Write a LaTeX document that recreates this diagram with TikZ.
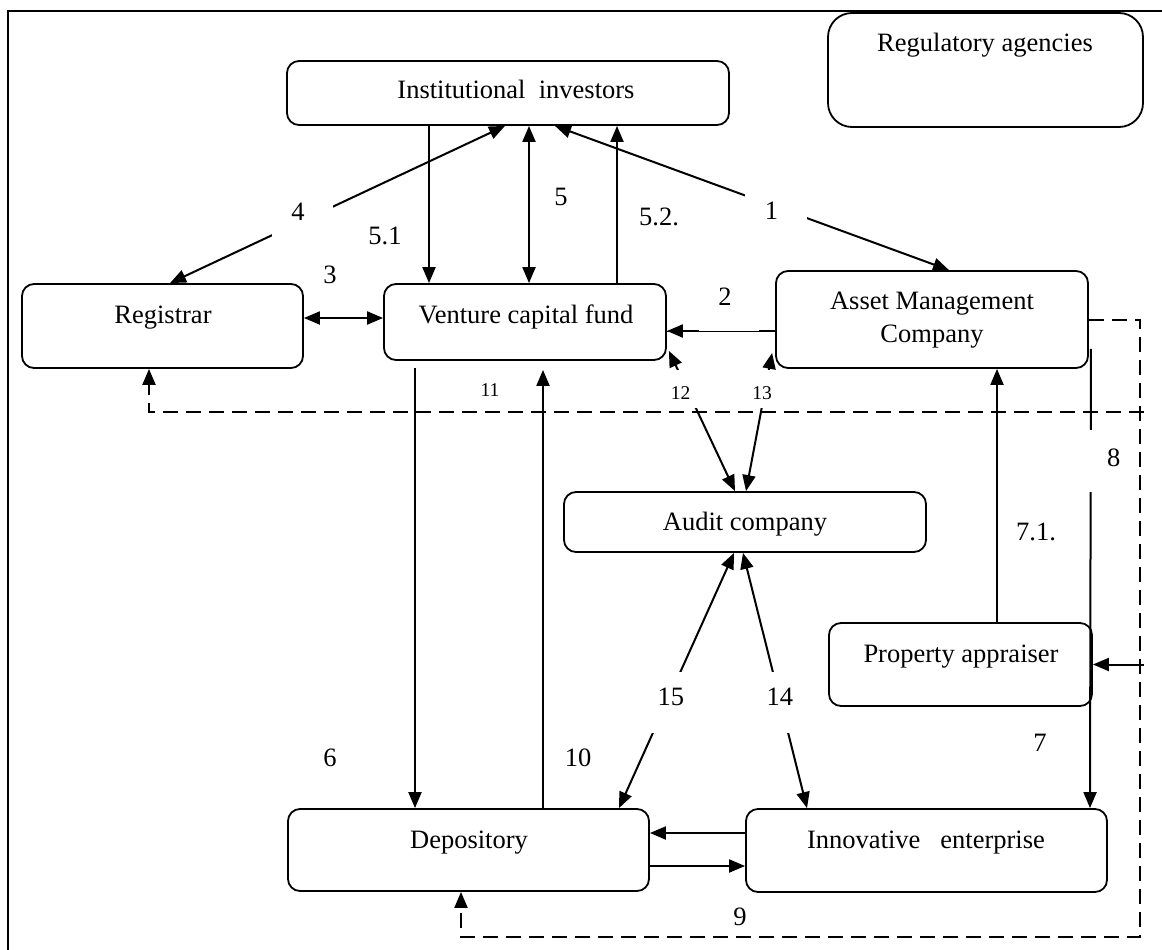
\documentclass[tikz,border=0pt]{standalone}
\usepackage{fontspec}
\setmainfont{Liberation Serif}
\usetikzlibrary{arrows.meta,calc}

\begin{document}
\begin{tikzpicture}[x=1pt,y=-1pt,
  Tri/.tip={Triangle[length=16pt,width=13pt]},
  box/.style={draw, line width=1.8pt, rounded corners=12pt, inner sep=0pt},
  txt/.style={font=\fontsize{26.5}{31}\selectfont, inner sep=0pt, anchor=base},
  num/.style={font=\fontsize{26.5}{31}\selectfont, inner sep=0pt},
  sm/.style={font=\fontsize{19.5}{23}\selectfont, inner sep=0pt},
  link/.style={line width=2pt},
  dline/.style={line width=2pt, dash pattern=on 15pt off 8pt},
  gapbox/.style 2 args={fill=white, draw=none, inner sep=0pt,
    minimum width=#1pt, minimum height=#2pt}
]
\useasboundingbox (0,0) rectangle (1162,950);

% outer frame
\draw[line width=2pt] (8,950) -- (8,11) -- (1162,11);

% participants
\node[box, minimum width=442pt, minimum height=64pt] (ii) at (508,93) {};
\node[txt] (ii-t) at (516,98) {Institutional\ \ investors};

\node[box, rounded corners=24pt, minimum width=315pt, minimum height=114pt] (ra) at (985.5,70) {};
\node[txt] (ra-t) at (985,52) {Regulatory agencies};

\node[box, minimum width=281pt, minimum height=84pt] (reg) at (162.5,326) {};
\node[txt] (reg-t) at (163,323) {Registrar};

\node[box, minimum width=282pt, minimum height=76pt] (vcf) at (525,322) {};
\node[txt] (vcf-t) at (526,323) {Venture capital fund};

\node[box, minimum width=312pt, minimum height=97pt] (amc) at (932,319.5) {};
\node[txt] (amc-t1) at (932,309) {Asset Management};
\node[txt] (amc-t2) at (932,342) {Company};

\node[box, minimum width=362pt, minimum height=60pt] (aud) at (745,522) {};
\node[txt] (aud-t) at (745,530) {Audit company};

\node[box, minimum width=263pt, minimum height=83pt] (pa) at (960.5,664.5) {};
\node[txt] (pa-t) at (961,662) {Property appraiser};

\node[box, minimum width=361pt, minimum height=82pt] (dep) at (468.5,850) {};
\node[txt] (dep-t) at (469,848) {Depository};

\node[box, minimum width=361pt, minimum height=83pt] (inn) at (926.5,850.5) {};
\node[txt] (inn-t) at (926,848) {Innovative\ \ \ enterprise};

% dashed reporting lines
\coordinate (c11) at (1144,412);
\coordinate (rb) at (1140,937);
\draw[dline, -Tri] (amc.east) -- (1140,0 |- amc.east) -- (rb) -- (461,0 |- rb) -- (461,0 |- dep.south);
\draw[dline, -Tri] (c11) -- (149,0 |- c11) -- (149,0 |- reg.south);
\node[num] (l9) at (740,917) {9};
\node[sm] (l11) at (490,390) {11};

% flows between participants
\draw[link, Tri-Tri] (505,0 |- ii.south) -- node[gapbox={61}{40}, pos=0.6045,
  label={[num, shift={(-4.5pt,9pt)}]center:4}] {} (170,0 |- reg.north);
\draw[link, Tri-Tri] (555,0 |- ii.south) -- node[gapbox={62}{36}, pos=0.561,
  label={[num, shift={(-4.5pt,-4pt)}]center:1}] {} (949,0 |- amc.north);

\draw[line width=0.8pt] (amc.west |- 0,331) -- (vcf.east |- 0,331);
\draw[link, -Tri, dash pattern=on 16pt off 60pt on 40pt] (amc.west |- 0,331) -- (vcf.east |- 0,331);
\node[num] (l2) at (725,297) {2};

\draw[link, Tri-Tri] (reg.east |- 0,318) -- (vcf.west |- 0,318);
\node[num] (l3) at (330,275) {3};

\draw[link, -Tri] (429,0 |- ii.south) -- (429,0 |- vcf.north);
\node[num] (l51) at (385,236) {5.1};
\draw[link, Tri-Tri] (529,0 |- ii.south) -- (529,0 |- vcf.north);
\node[num] (l5) at (561,197) {5};
\draw[link, -Tri] (617,0 |- vcf.north) -- (617,0 |- ii.south);
\node[num] (l52) at (659,217) {5.2.};

\draw[link, -Tri, shorten <=7pt] (415,0 |- vcf.south) -- (415,0 |- dep.north);
\node[num] (l6) at (330,758) {6};
\draw[link, -Tri, shorten >=9pt] (543,0 |- dep.north) -- (543,0 |- vcf.south);
\node[num] (l10) at (578,758) {10};

\draw[link, Tri-Tri] ([shift={(2,-10)}]vcf.south east) -- node[gapbox={26}{38}, pos=0.275,
  label={[sm, shift={(-6.4pt,-4pt)}]center:12}] {} (735,0 |- aud.north);
\draw[link, Tri-Tri] ([shift={(-3,-16)}]amc.south west) -- node[gapbox={26}{38}, pos=0.264,
  label={[sm, shift={(-3pt,-4pt)}]center:13}] {} (746,0 |- aud.north);

\draw[link, Tri-Tri] (743,0 |- aud.south) -- node[gapbox={30}{61}, pos=0.5856,
  label={[num, shift={(-0.5pt,5.5pt)}]center:14}] {} (807,0 |- inn.north);
\draw[link, Tri-Tri] (734,0 |- aud.south) -- node[gapbox={36}{61}, pos=0.5856,
  label={[num, shift={(4.3pt,5.5pt)}]center:15}] {} (619,0 |- dep.north);

\draw[link, -Tri] (997,0 |- pa.north) -- (997,0 |- amc.south);
\node[num] (l71) at (1036,532) {7.1.};

\draw[link, -Tri] ([shift={(2,-20)}]amc.south east) -- node[gapbox={10}{62}, pos=0.245,
  label={[num, shift={(23pt,4pt)}]center:8}] {} (1090,0 |- inn.north);
\node[num] (l7) at (1040,743) {7};

\draw[link, -Tri] (1144,0 |- pa.east) -- (pa.east);

% depository <-> innovative enterprise
\draw[link, -Tri] (inn.west |- 0,833) -- (dep.east |- 0,833);
\draw[link, -Tri] (dep.east |- 0,866) -- (inn.west |- 0,866);
\end{tikzpicture}
\end{document}
